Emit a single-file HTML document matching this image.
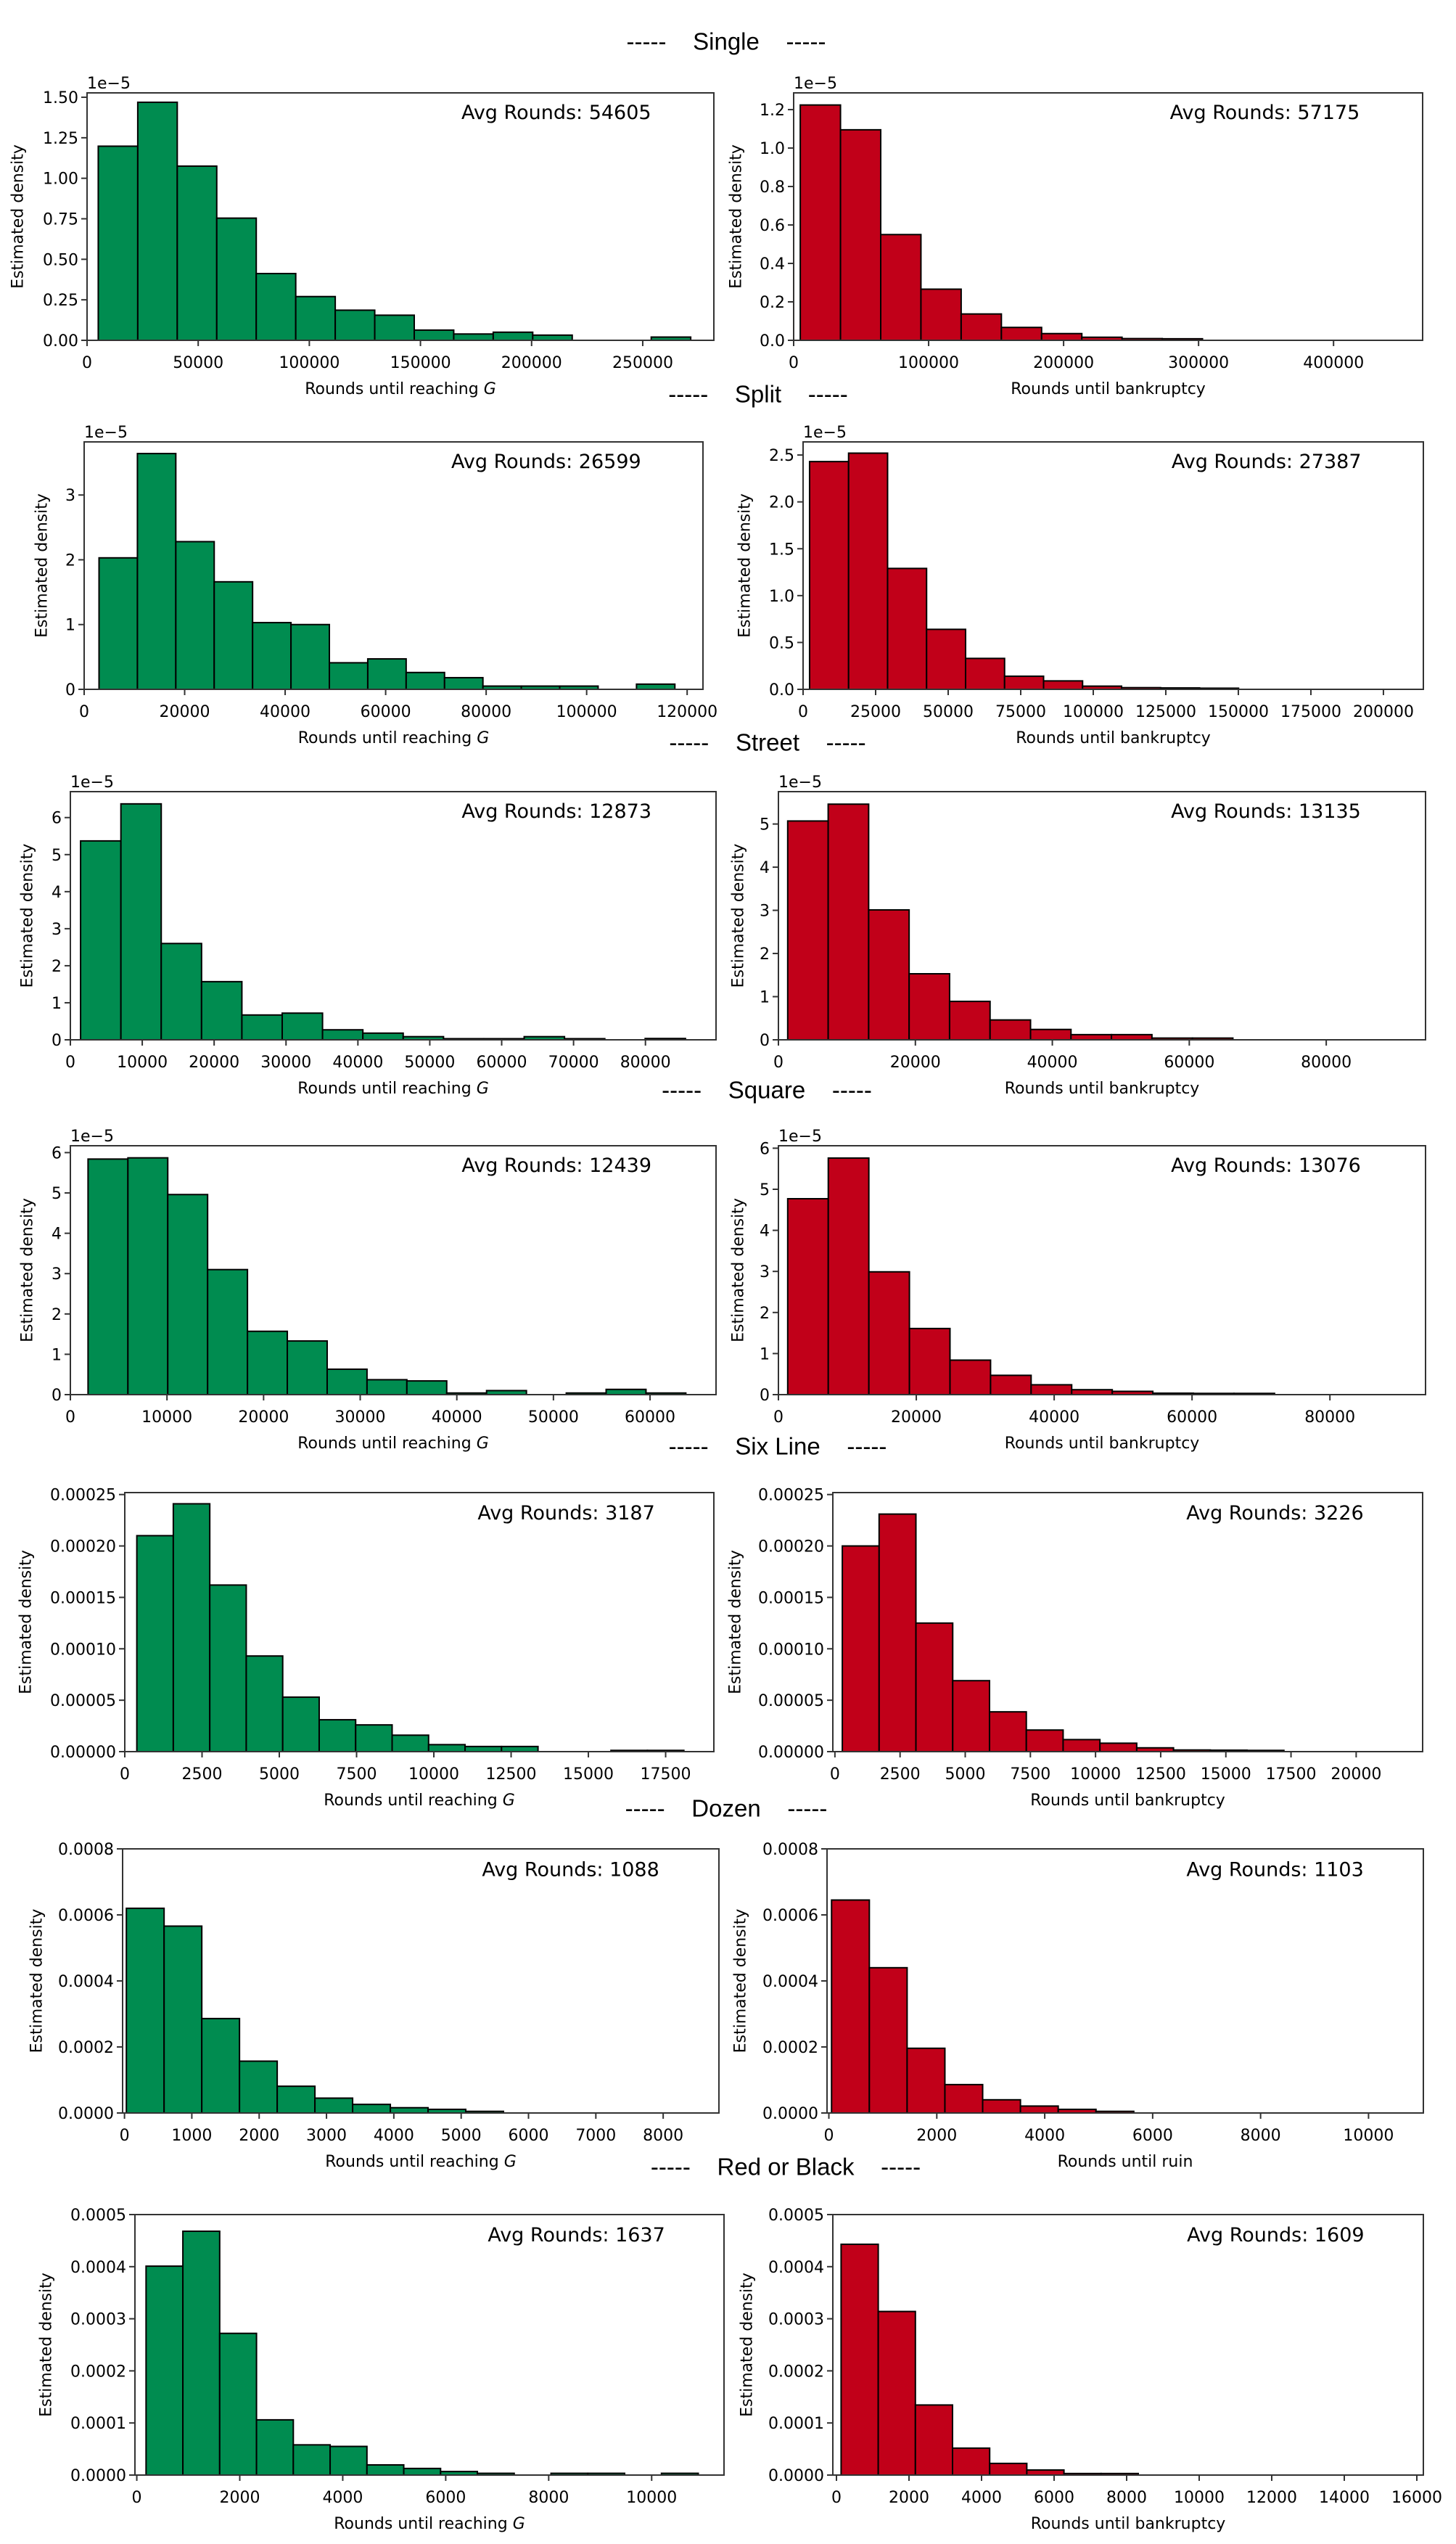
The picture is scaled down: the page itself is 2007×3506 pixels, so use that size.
<!DOCTYPE html>
<html>
<head>
<meta charset="utf-8">
<style>
html,body{margin:0;padding:0;background:#fff;}
svg{display:block;}
text{font-family:"DejaVu Sans","Liberation Sans",sans-serif;fill:#000;}
.title{font-family:"Liberation Sans",sans-serif;font-size:33px;}
.tick{font-size:22px;}
.lab{font-size:22px;}
.avg{font-size:27px;}
</style>
</head>
<body>
<svg id="fig" xmlns="http://www.w3.org/2000/svg" width="2007" height="3506" viewBox="0 0 2007 3506"></svg>
<script>
// ---------- data ----------
const sectionTitles = ["Single","Split","Street","Square","Six Line","Dozen","Red or Black"];
const avgLeft  = [54605, 26599, 12873, 12439, 3187, 1088, 1637];
const avgRight = [57175, 27387, 13135, 13076, 3226, 1103, 1609];

const r1LeftValues  = [1.198,1.469,1.075,0.754,0.412,0.27,0.186,0.155,0.063,0.039,0.05,0.032,0,0,0.02];
const r1RightValues = [1.224,1.095,0.55,0.266,0.137,0.067,0.035,0.016,0.009,0.008];
const r2LeftValues  = [2.03,3.64,2.28,1.66,1.03,1.00,0.41,0.47,0.26,0.18,0.05,0.05,0.05,0,0.08];
const r2RightValues = [2.43,2.52,1.29,0.64,0.33,0.14,0.09,0.034,0.018,0.015,0.012];
const r3LeftValues  = [5.37,6.37,2.60,1.57,0.67,0.72,0.27,0.18,0.085,0.03,0.03,0.085,0.03,0,0.035];
const r3RightValues = [5.07,5.46,3.01,1.53,0.89,0.46,0.24,0.12,0.12,0.04,0.04];
const r4LeftValues  = [5.84,5.87,4.96,3.10,1.57,1.33,0.63,0.37,0.34,0.04,0.10,0,0.04,0.13,0.04];
const r4RightValues = [4.77,5.76,2.99,1.61,0.84,0.47,0.24,0.12,0.08,0.035,0.03,0.03];
const r5LeftValues  = [0.000210,0.000241,0.000162,0.000093,0.000053,0.000031,0.000026,0.000016,0.0000068,0.000005,0.000005,0,0,0.0000012,0.0000012];
const r5RightValues = [0.000200,0.000231,0.000125,0.000069,0.0000387,0.000021,0.0000117,0.0000082,0.0000037,0.0000016,0.0000014,0.0000012];
const r6LeftValues  = [0.000620,0.000566,0.000286,0.000157,0.000081,0.000045,0.000026,0.000016,0.000011,0.000005];
const r6RightValues = [0.000645,0.000440,0.000196,0.000086,0.000040,0.000021,0.000011,0.000005];
const r7LeftValues  = [0.000401,0.000468,0.000272,0.000106,0.000058,0.000055,0.0000195,0.0000127,0.0000068,0.0000034,0,0.0000034,0.0000034,0,0.0000034];
const r7RightValues = [0.000443,0.000314,0.0001345,0.0000517,0.0000224,0.0000097,0.000003,0.000003];

// bin starts and widths (data units)
const binStartLeft  = [5040, 2960, 1420, 1830, 390, 28, 180];
const binWidthLeft  = [17770, 7640, 5610, 4125, 1180, 560, 715];
const binStartRight = [4900, 2240, 1356, 1347, 284, 50, 128];
const binWidthRight = [29800, 13440, 5910, 5885, 1412, 700, 1024];

// tick values / labels
const xTicksLeft = [
  [0,50000,100000,150000,200000,250000],
  [0,20000,40000,60000,80000,100000,120000],
  [0,10000,20000,30000,40000,50000,60000,70000,80000],
  [0,10000,20000,30000,40000,50000,60000],
  [0,2500,5000,7500,10000,12500,15000,17500],
  [0,1000,2000,3000,4000,5000,6000,7000,8000],
  [0,2000,4000,6000,8000,10000]
];
const xTicksRight = [
  [0,100000,200000,300000,400000],
  [0,25000,50000,75000,100000,125000,150000,175000,200000],
  [0,20000,40000,60000,80000],
  [0,20000,40000,60000,80000],
  [0,2500,5000,7500,10000,12500,15000,17500,20000],
  [0,2000,4000,6000,8000,10000],
  [0,2000,4000,6000,8000,10000,12000,14000,16000]
];
const yTicksLeft = [
  [0,0.25,0.5,0.75,1,1.25,1.5],[0,1,2,3],[0,1,2,3,4,5,6],[0,1,2,3,4,5,6],
  [0,0.00005,0.0001,0.00015,0.0002,0.00025],[0,0.0002,0.0004,0.0006,0.0008],
  [0,0.0001,0.0002,0.0003,0.0004,0.0005]
];
const yTicksRight = [
  [0,0.2,0.4,0.6,0.8,1.0,1.2],[0,0.5,1,1.5,2,2.5],[0,1,2,3,4,5],[0,1,2,3,4,5,6],
  [0,0.00005,0.0001,0.00015,0.0002,0.00025],[0,0.0002,0.0004,0.0006,0.0008],
  [0,0.0001,0.0002,0.0003,0.0004,0.0005]
];
const yDecimalsLeft  = [2,0,0,0,5,4,4];
const yDecimalsRight = [1,1,0,0,5,4,4];

// ---------- layout (positions only) ----------
const layoutLeft = [
  {x0:120,x1:984,y0:128,y1:469,xmin:0,xmax:282000,ymax:1.527,ylx:25},
  {x0:116,x1:969,y0:609,y1:950,xmin:0,xmax:123150,ymax:3.82,ylx:58},
  {x0:97,x1:987,y0:1091,y1:1433,xmin:0,xmax:89820,ymax:6.70,ylx:38},
  {x0:97,x1:987,y0:1579,y1:1922,xmin:0,xmax:66830,ymax:6.17,ylx:38},
  {x0:172,x1:984,y0:2057,y1:2414,xmin:0,xmax:19060,ymax:0.0002519,ylx:36},
  {x0:169,x1:991,y0:2548,y1:2912,xmin:-28,xmax:8828,ymax:0.0008,ylx:51},
  {x0:186,x1:998,y0:3052,y1:3411,xmin:-36,xmax:11405,ymax:0.0005,ylx:64}
];
const layoutRight = [
  {x0:1094,x1:1961,y0:128,y1:469,xmin:0,xmax:466000,ymax:1.287,ylx:1015},
  {x0:1107,x1:1962,y0:609,y1:950,xmin:0,xmax:213760,ymax:2.64,ylx:1027},
  {x0:1073,x1:1965,y0:1091,y1:1433,xmin:0,xmax:94500,ymax:5.75,ylx:1018},
  {x0:1073,x1:1965,y0:1579,y1:1922,xmin:0,xmax:93870,ymax:6.06,ylx:1018},
  {x0:1148,x1:1961,y0:2057,y1:2414,xmin:-80,xmax:22550,ymax:0.0002519,ylx:1014},
  {x0:1140,x1:1962,y0:2548,y1:2912,xmin:-34,xmax:11016,ymax:0.0008,ylx:1021},
  {x0:1148,x1:1962,y0:3052,y1:3411,xmin:-100,xmax:16180,ymax:0.0005,ylx:1030}
];
const titlePos = [[1001,57],[1045,543],[1058,1023],[1057,1502],[1072,1993],[1001,2492],[1083,2986]];

const leftValues  = [r1LeftValues,r2LeftValues,r3LeftValues,r4LeftValues,r5LeftValues,r6LeftValues,r7LeftValues];
const rightValues = [r1RightValues,r2RightValues,r3RightValues,r4RightValues,r5RightValues,r6RightValues,r7RightValues];

const NS = "http://www.w3.org/2000/svg";
const fig = document.getElementById("fig");
function mk(tag, attrs, parent){
  const e = document.createElementNS(NS, tag);
  for (const k in attrs) e.setAttribute(k, attrs[k]);
  (parent||fig).appendChild(e);
  return e;
}

function drawPanel(L, vals, start, width, xt, yt, ydec, color, xlabelText, avg, offsetText, name){
  const g = mk("g", {});
  
  
  const sx = v => L.x0 + (v - L.xmin) / (L.xmax - L.xmin) * (L.x1 - L.x0);
  const sy = v => L.y1 - v / L.ymax * (L.y1 - L.y0);
  vals.forEach((v, i) => {
    const a = sx(start + i*width), b = sx(start + (i+1)*width);
    const r = mk("rect", {x:a, y:sy(v), width:b-a, height:Math.max(0, sy(0)-sy(v)), fill:color, stroke:"#000", "stroke-width":2}, g);
    
    
  });
  const fr = mk("rect", {x:L.x0, y:L.y0, width:L.x1-L.x0, height:L.y1-L.y0, fill:"none", stroke:"#333", "stroke-width":2}, g);
  
  
  xt.forEach(t => {
    const x = sx(t);
    mk("line", {x1:x, x2:x, y1:L.y1, y2:L.y1+8, stroke:"#333", "stroke-width":2}, g);
    const tx = mk("text", {x:x, y:L.y1+38, "text-anchor":"middle", class:"tick"}, g);
    tx.textContent = String(t);
    
    
  });
  yt.forEach(t => {
    const y = sy(t);
    mk("line", {x1:L.x0-8, x2:L.x0, y1:y, y2:y, stroke:"#333", "stroke-width":2}, g);
    const ty = mk("text", {x:L.x0-12, y:y+8, "text-anchor":"end", class:"tick"}, g);
    ty.textContent = t.toFixed(ydec);
    
    
  });
  if (offsetText){
    const o = mk("text", {x:L.x0, y:L.y0-6, class:"tick"}, g);
    o.textContent = offsetText;
    
    
  }
  const cy = (L.y0 + L.y1)/2;
  const yl = mk("text", {x:L.ylx, y:cy, "text-anchor":"middle", "dominant-baseline":"central", class:"lab", transform:"rotate(-90 "+L.ylx+" "+cy+")"}, g);
  yl.textContent = "Estimated density";
  
  
  const xl = mk("text", {x:(L.x0+L.x1)/2, y:L.y1+74, "text-anchor":"middle", class:"lab"}, g);
  xl.innerHTML = xlabelText;
  
  
  const av = mk("text", {x:L.x0 + 0.9*(L.x1-L.x0), y:L.y0 + 0.08*(L.y1-L.y0), "text-anchor":"end", "dominant-baseline":"central", class:"avg"}, g);
  av.textContent = "Avg Rounds: " + avg;
  
  
}

for (let r = 0; r < 7; r++){
  const t = mk("text", {x:titlePos[r][0], y:titlePos[r][1], "text-anchor":"middle", "dominant-baseline":"central", class:"title"});
  t.textContent = "-----\u00a0\u00a0\u00a0 " + sectionTitles[r] + " \u00a0\u00a0\u00a0-----";
  
  
  const off = r < 4 ? "1e\u22125" : "";
  drawPanel(layoutLeft[r], leftValues[r], binStartLeft[r], binWidthLeft[r], xTicksLeft[r], yTicksLeft[r], yDecimalsLeft[r],
    "#008c50", 'Rounds until reaching <tspan font-style="italic">G</tspan>', avgLeft[r], off, "win-histogram-panel");
  drawPanel(layoutRight[r], rightValues[r], binStartRight[r], binWidthRight[r], xTicksRight[r], yTicksRight[r], yDecimalsRight[r],
    "#c10019", r === 5 ? "Rounds until ruin" : "Rounds until bankruptcy", avgRight[r], off, "ruin-histogram-panel");
}
</script>
</body>
</html>
